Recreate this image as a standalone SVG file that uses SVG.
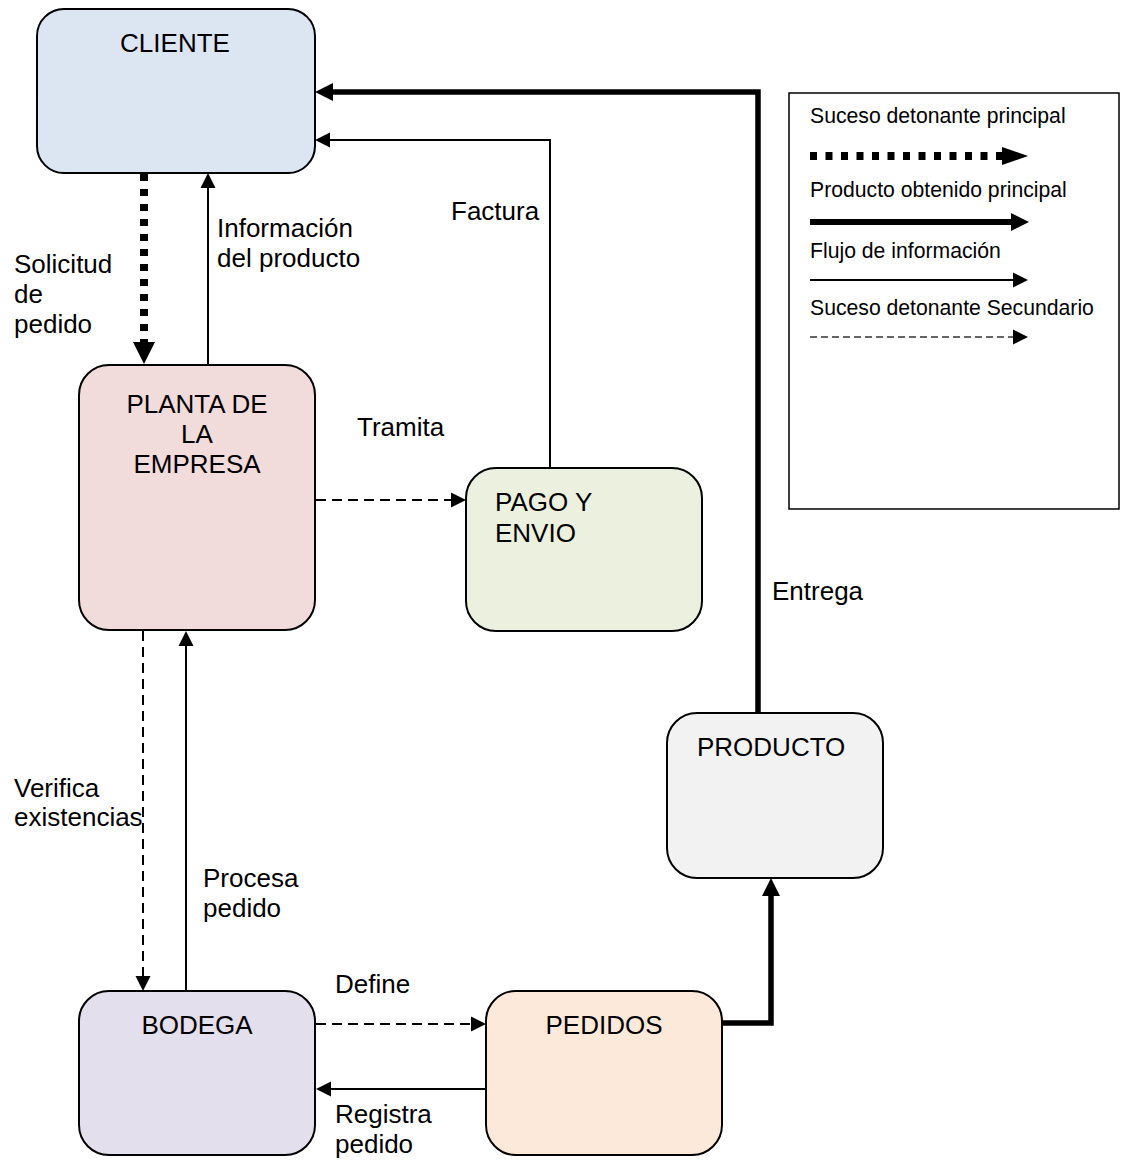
<svg xmlns="http://www.w3.org/2000/svg" width="1123" height="1161" viewBox="0 0 1123 1161">
<style>
  .node { stroke: #000; stroke-width: 2; }
  .t { font-family: "Liberation Sans", Arial, sans-serif; font-size: 26px; fill: #000; }
  .lg { font-family: "Liberation Sans", Arial, sans-serif; font-size: 21.2px; fill: #000; }
  .thin { fill: none; stroke: #000; stroke-width: 2; }
  .dash { fill: none; stroke: #000; stroke-width: 2; stroke-dasharray: 10 6; }
  .thick { fill: none; stroke: #000; stroke-width: 5.5; stroke-linejoin: miter; }
  .dot { fill: none; stroke: #000; stroke-width: 8; stroke-dasharray: 7 8; }
</style>
<defs>
  <marker id="m-thin" markerUnits="userSpaceOnUse" viewBox="0 -10 20 20" markerWidth="20" markerHeight="20" refX="0" refY="0" orient="auto">
    <path d="M0,-7.5 L15,0 L0,7.5 z" fill="#000"/>
  </marker>
  <marker id="m-thick" markerUnits="userSpaceOnUse" viewBox="0 -12 24 24" markerWidth="24" markerHeight="24" refX="0" refY="0" orient="auto">
    <path d="M0,-9 L18,0 L0,9 z" fill="#000"/>
  </marker>
  <marker id="m-dot" markerUnits="userSpaceOnUse" viewBox="0 -14 30 28" markerWidth="30" markerHeight="28" refX="0" refY="0" orient="auto">
    <path d="M0,-11 L22,0 L0,11 z" fill="#000"/>
  </marker>
  <marker id="m-dot-lg" markerUnits="userSpaceOnUse" viewBox="0 -14 30 28" markerWidth="30" markerHeight="28" refX="0" refY="0" orient="auto">
    <path d="M0,-9 L26,0 L0,9 z" fill="#000"/>
  </marker>
</defs>
<rect width="1123" height="1161" fill="#fff"/>

<g id="connectors">
  <line id="c-solicitud" class="dot" x1="144" y1="174" x2="144" y2="342" marker-end="url(#m-dot)"/>
  <line id="c-informacion" class="thin" x1="208" y1="364" x2="208" y2="188" marker-end="url(#m-thin)"/>
  <polyline id="c-factura" class="thin" points="550,468 550,140 330,140" marker-end="url(#m-thin)"/>
  <polyline id="c-entrega" class="thick" points="758,713 758,92 333,92" marker-end="url(#m-thick)"/>
  <line id="c-tramita" class="dash" x1="316" y1="500" x2="451" y2="500" marker-end="url(#m-thin)"/>
  <line id="c-verifica" class="dash" x1="143" y1="631" x2="143" y2="976" marker-end="url(#m-thin)"/>
  <line id="c-procesa" class="thin" x1="186" y1="991" x2="186" y2="646" marker-end="url(#m-thin)"/>
  <line id="c-define" class="dash" x1="316" y1="1024" x2="471" y2="1024" marker-end="url(#m-thin)"/>
  <line id="c-registra" class="thin" x1="486" y1="1089" x2="331" y2="1089" marker-end="url(#m-thin)"/>
  <polyline id="c-pedidos-producto" class="thick" points="722,1023 771,1023 771,896" marker-end="url(#m-thick)"/>

  <text class="t" x="14" y="273">Solicitud</text>
  <text class="t" x="14" y="303">de</text>
  <text class="t" x="14" y="333">pedido</text>
  <text class="t" x="217" y="237">Información</text>
  <text class="t" x="217" y="267">del producto</text>
  <text class="t" x="451" y="220">Factura</text>
  <text class="t" x="357" y="436">Tramita</text>
  <text class="t" x="772" y="600">Entrega</text>
  <text class="t" x="14" y="797">Verifica</text>
  <text class="t" x="14" y="826">existencias</text>
  <text class="t" x="203" y="887">Procesa</text>
  <text class="t" x="203" y="917">pedido</text>
  <text class="t" x="335" y="993">Define</text>
  <text class="t" x="335" y="1123">Registra</text>
  <text class="t" x="335" y="1153">pedido</text>
</g>

<g id="cliente">
  <rect class="node" x="37" y="9" width="278" height="164" rx="27" ry="27" fill="#DCE6F2"/>
  <text class="t" x="175" y="52" text-anchor="middle">CLIENTE</text>
</g>

<g id="planta">
  <rect class="node" x="79" y="365" width="236" height="265" rx="30" ry="30" fill="#F2DCDB"/>
  <text class="t" x="197" y="413" text-anchor="middle">PLANTA DE</text>
  <text class="t" x="197" y="443" text-anchor="middle">LA</text>
  <text class="t" x="197" y="473" text-anchor="middle">EMPRESA</text>
</g>

<g id="pago">
  <rect class="node" x="466" y="468" width="236" height="163" rx="30" ry="30" fill="#EBF1DE"/>
  <text class="t" x="495" y="511">PAGO Y</text>
  <text class="t" x="495" y="542">ENVIO</text>
</g>

<g id="producto">
  <rect class="node" x="667" y="713" width="216" height="165" rx="30" ry="30" fill="#F2F2F2"/>
  <text class="t" x="697" y="756">PRODUCTO</text>
</g>

<g id="bodega">
  <rect class="node" x="79" y="991" width="236" height="164" rx="30" ry="30" fill="#E4DFEC"/>
  <text class="t" x="197" y="1034" text-anchor="middle">BODEGA</text>
</g>

<g id="pedidos">
  <rect class="node" x="486" y="991" width="236" height="164" rx="30" ry="30" fill="#FDE9D9"/>
  <text class="t" x="604" y="1034" text-anchor="middle">PEDIDOS</text>
</g>

<g id="legend">
  <rect x="789" y="93" width="330" height="416" fill="#fff" stroke="#000" stroke-width="1.5"/>
  <text class="lg" x="810" y="123">Suceso detonante principal</text>
  <line x1="810" y1="156" x2="1002" y2="156" stroke="#000" stroke-width="8" stroke-dasharray="7 8.5" marker-end="url(#m-dot-lg)"/>
  <text class="lg" x="810" y="197">Producto obtenido principal</text>
  <line x1="810" y1="222" x2="1011" y2="222" stroke="#000" stroke-width="6" marker-end="url(#m-thick)"/>
  <text class="lg" x="810" y="258">Flujo de información</text>
  <line x1="810" y1="280" x2="1013" y2="280" stroke="#000" stroke-width="2" marker-end="url(#m-thin)"/>
  <text class="lg" x="810" y="315">Suceso detonante Secundario</text>
  <line x1="810" y1="337" x2="1013" y2="337" stroke="#333" stroke-width="1.6" stroke-dasharray="7 4" marker-end="url(#m-thin)"/>
</g>
</svg>
